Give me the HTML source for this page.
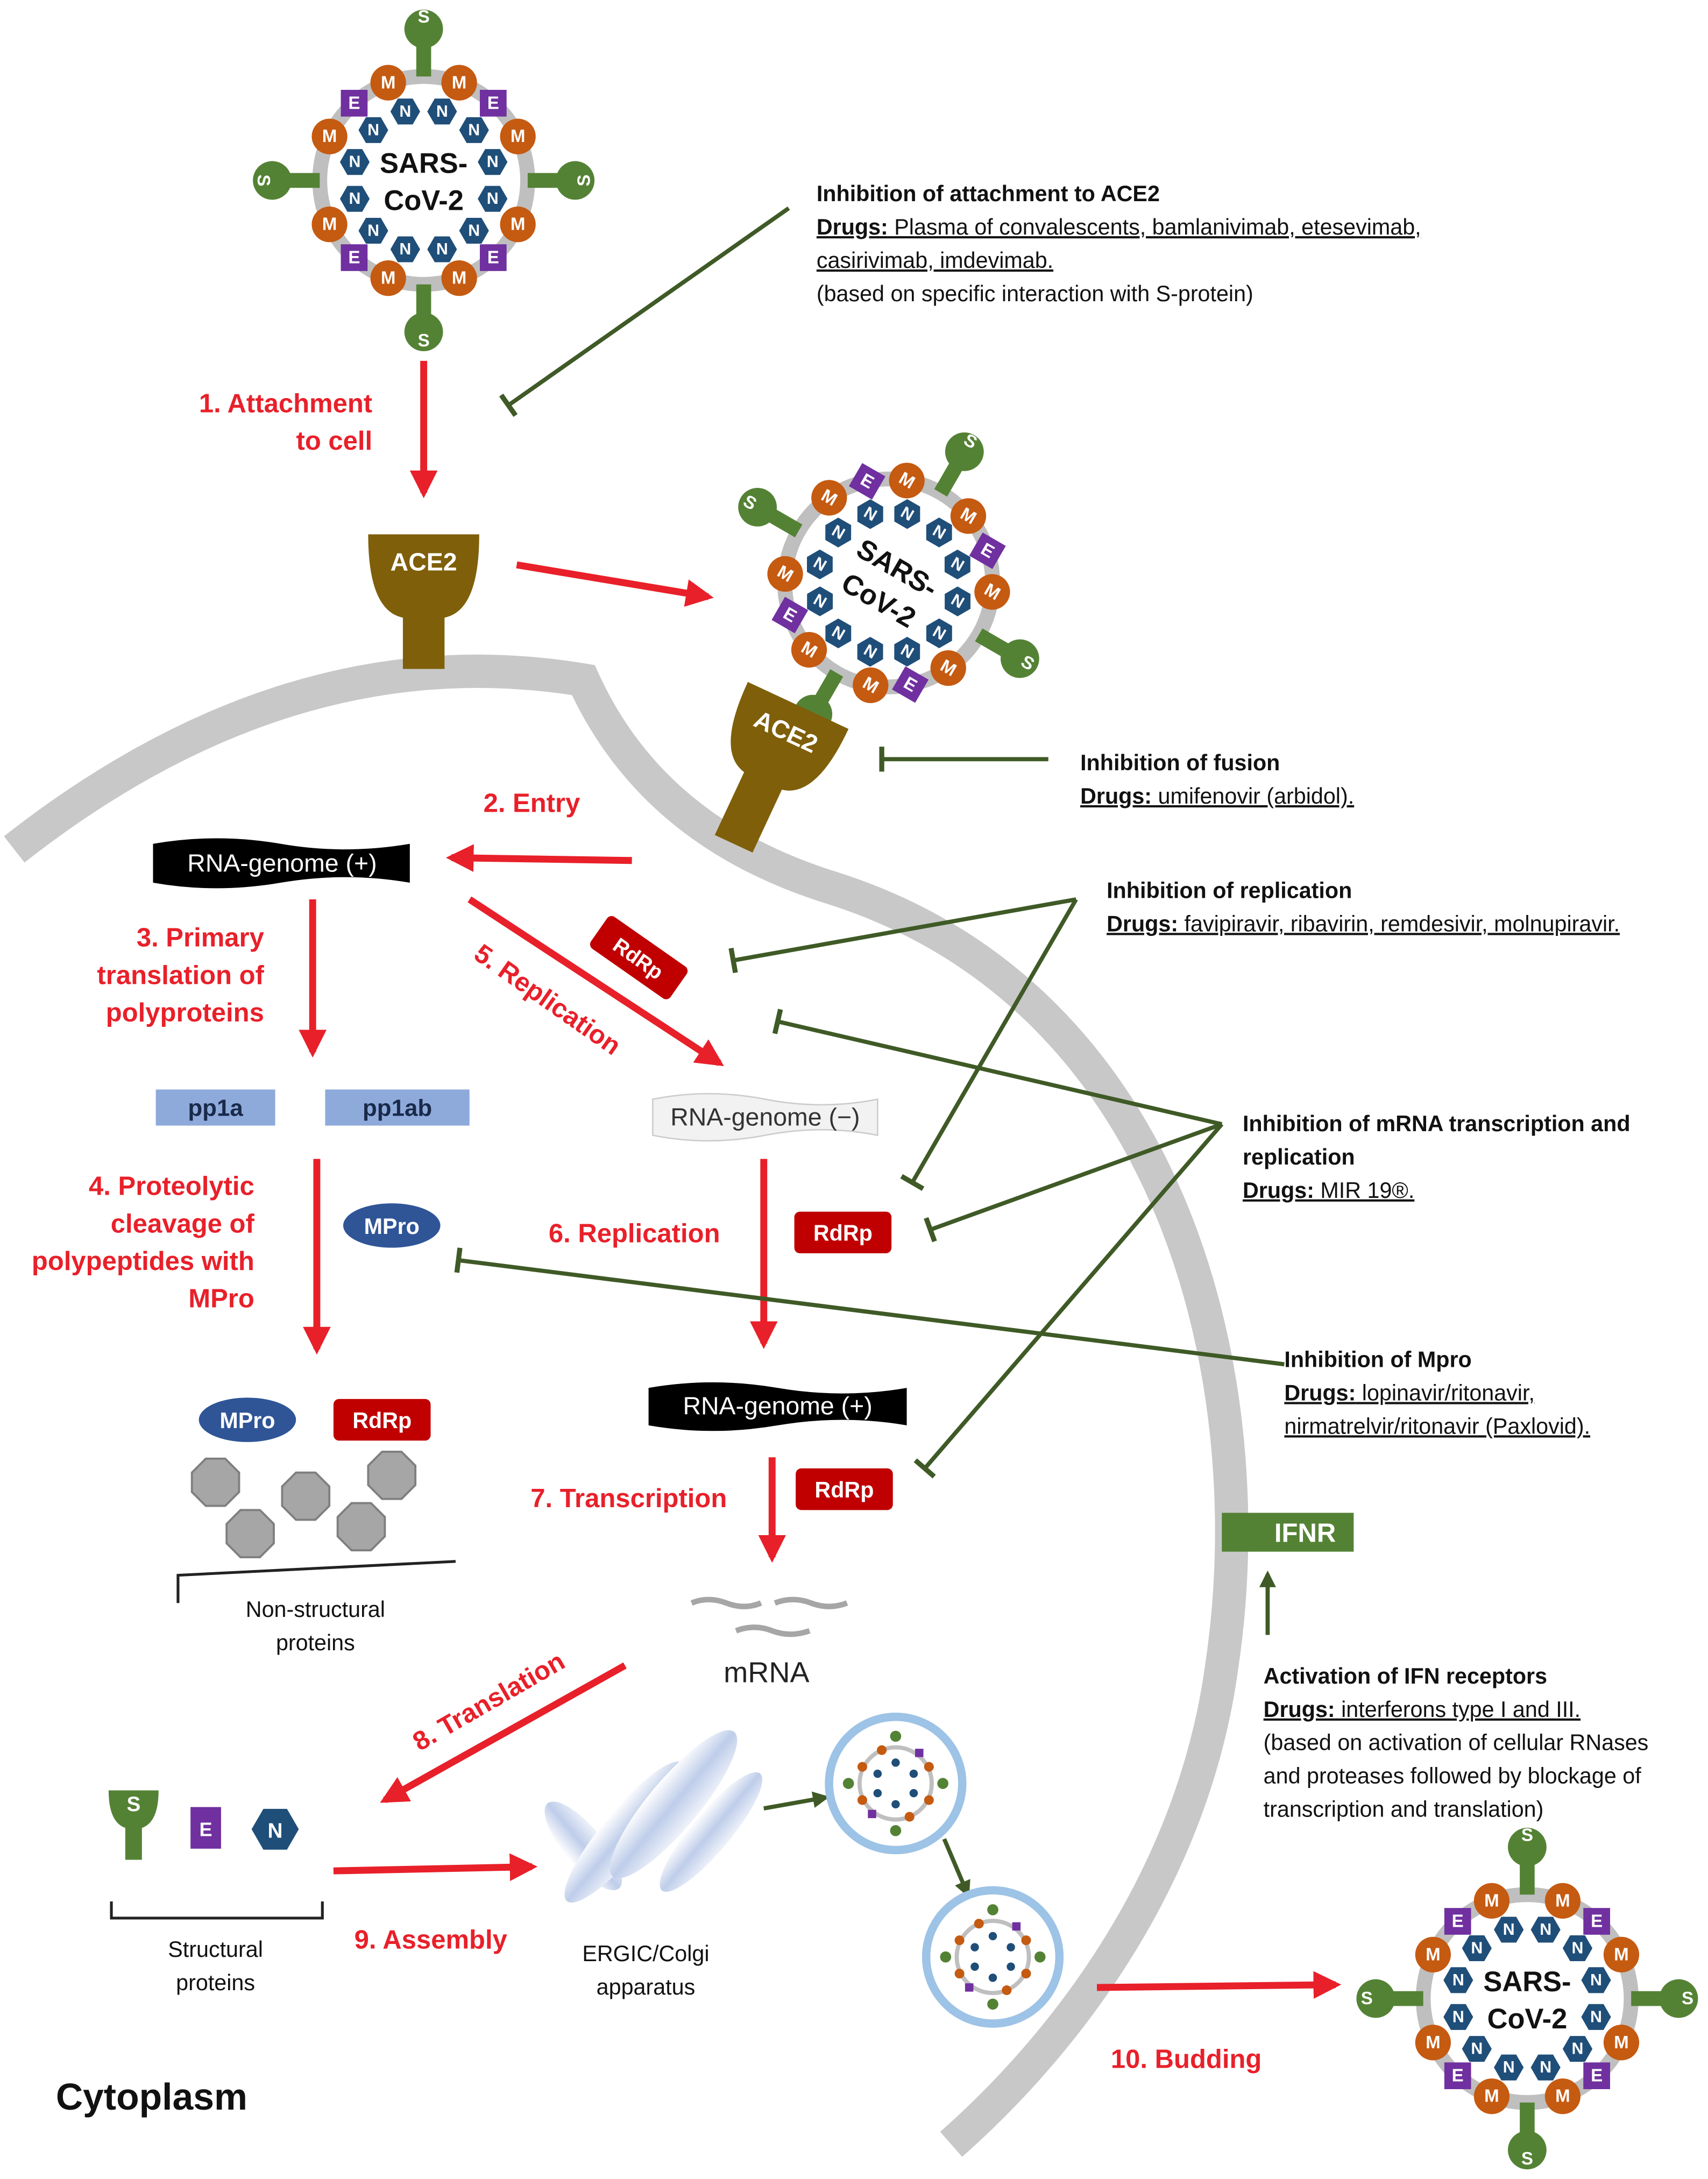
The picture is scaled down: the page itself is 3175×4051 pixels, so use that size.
<!DOCTYPE html>
<html><head><meta charset="utf-8"><style>
html,body{margin:0;padding:0;background:#fff}
svg{display:block}
text{font-family:"Liberation Sans",sans-serif}
.r{fill:#e8202a;font-weight:bold;font-size:19px}
.b{fill:#111;font-size:16px}
.bb{fill:#111;font-size:16px;font-weight:bold}
.u{text-decoration:underline}
.nt{fill:#fff;font-size:11px;font-weight:bold;text-anchor:middle;dominant-baseline:central}
.mt{fill:#fff;font-size:12px;font-weight:bold;text-anchor:middle;dominant-baseline:central}
.vt{fill:#111;font-size:19px;font-weight:bold;text-anchor:middle}
</style></head><body>
<svg width="3175" height="4051" viewBox="0 0 1230 1570" xmlns="http://www.w3.org/2000/svg">
<defs>
<marker id="ar" viewBox="0 0 10 10" refX="8" refY="5" markerWidth="4" markerHeight="4" orient="auto"><path d="M0,0 L10,5 L0,10 z" fill="#e8202a"/></marker>
<marker id="ag" viewBox="0 0 10 10" refX="8" refY="5" markerWidth="4" markerHeight="4" orient="auto"><path d="M0,0 L10,5 L0,10 z" fill="#3f5a26"/></marker>
<marker id="tb" viewBox="0 0 10 10" refX="5" refY="5" markerWidth="6" markerHeight="6" orient="auto"><path d="M5,0 V10" stroke="#3f5a26" stroke-width="2"/></marker>
<linearGradient id="gg" x1="0" y1="0" x2="1" y2="0"><stop offset="0" stop-color="#fff"/><stop offset="0.5" stop-color="#b8c8e8"/><stop offset="1" stop-color="#eef2fa"/></linearGradient>
<g id="vb">
<circle r="70" fill="#fff" stroke="#bfbfbf" stroke-width="10"/>
<g fill="#548235">
<rect x="-5" y="-95" width="10" height="25"/><circle cx="0" cy="-102" r="13"/>
<rect x="-5" y="70" width="10" height="25"/><circle cx="0" cy="102" r="13"/>
<rect x="70" y="-5" width="25" height="10"/><circle cx="102" cy="0" r="13"/>
<rect x="-95" y="-5" width="25" height="10"/><circle cx="-102" cy="0" r="13"/>
</g>
<g fill="#c55a11">
<circle cx="63.4" cy="-29.6" r="12"/><circle cx="23.9" cy="-65.8" r="12"/><circle cx="-23.9" cy="-65.8" r="12"/><circle cx="-63.4" cy="-29.6" r="12"/>
<circle cx="-63.4" cy="29.6" r="12"/><circle cx="-23.9" cy="65.8" r="12"/><circle cx="23.9" cy="65.8" r="12"/><circle cx="63.4" cy="29.6" r="12"/>
</g>
<g fill="#7030a0">
<rect x="37.8" y="-61" width="18" height="18"/><rect x="-55.8" y="-61" width="18" height="18"/><rect x="-55.8" y="43" width="18" height="18"/><rect x="37.8" y="43" width="18" height="18"/>
</g>
<g fill="#1f4e79">
<polygon transform="translate(46.4,-12.4)" points="10,0 5,8.7 -5,8.7 -10,0 -5,-8.7 5,-8.7"/>
<polygon transform="translate(33.9,-33.9)" points="10,0 5,8.7 -5,8.7 -10,0 -5,-8.7 5,-8.7"/>
<polygon transform="translate(12.4,-46.4)" points="10,0 5,8.7 -5,8.7 -10,0 -5,-8.7 5,-8.7"/>
<polygon transform="translate(-12.4,-46.4)" points="10,0 5,8.7 -5,8.7 -10,0 -5,-8.7 5,-8.7"/>
<polygon transform="translate(-33.9,-33.9)" points="10,0 5,8.7 -5,8.7 -10,0 -5,-8.7 5,-8.7"/>
<polygon transform="translate(-46.4,-12.4)" points="10,0 5,8.7 -5,8.7 -10,0 -5,-8.7 5,-8.7"/>
<polygon transform="translate(-46.4,12.4)" points="10,0 5,8.7 -5,8.7 -10,0 -5,-8.7 5,-8.7"/>
<polygon transform="translate(-33.9,33.9)" points="10,0 5,8.7 -5,8.7 -10,0 -5,-8.7 5,-8.7"/>
<polygon transform="translate(-12.4,46.4)" points="10,0 5,8.7 -5,8.7 -10,0 -5,-8.7 5,-8.7"/>
<polygon transform="translate(12.4,46.4)" points="10,0 5,8.7 -5,8.7 -10,0 -5,-8.7 5,-8.7"/>
<polygon transform="translate(33.9,33.9)" points="10,0 5,8.7 -5,8.7 -10,0 -5,-8.7 5,-8.7"/>
<polygon transform="translate(46.4,12.4)" points="10,0 5,8.7 -5,8.7 -10,0 -5,-8.7 5,-8.7"/>
</g>
</g>
<g id="sv">
<circle r="48" fill="#fff" stroke="#9dc3e6" stroke-width="6"/>
<circle r="26" fill="none" stroke="#bfbfbf" stroke-width="3"/>
<g fill="#548235"><circle cx="0" cy="-34" r="4"/><circle cx="0" cy="34" r="4"/><circle cx="34" cy="0" r="4"/><circle cx="-34" cy="0" r="4"/></g>
<g fill="#c55a11"><circle cx="24" cy="-12" r="3.5"/><circle cx="-24" cy="-12" r="3.5"/><circle cx="24" cy="12" r="3.5"/><circle cx="-24" cy="12" r="3.5"/><circle cx="10" cy="24" r="3.5"/><circle cx="-10" cy="-24" r="3.5"/></g>
<g fill="#7030a0"><rect x="14" y="-25" width="6" height="6"/><rect x="-20" y="19" width="6" height="6"/></g>
<g fill="#1f4e79"><circle cx="0" cy="-15" r="3"/><circle cx="13" cy="-7" r="3"/><circle cx="13" cy="7" r="3"/><circle cx="0" cy="15" r="3"/><circle cx="-13" cy="7" r="3"/><circle cx="-13" cy="-7" r="3"/></g>
</g>
</defs>

<!-- membrane -->
<path d="M10,612 Q210,455 420,490 Q470,600 600,640 C850,720 910,1000 880,1200 C860,1350 770,1470 685,1545" fill="none" stroke="#c8c8c8" stroke-width="24"/>

<!-- virus 1 -->
<g transform="translate(305,130) scale(1.07)"><use href="#vb"/></g>
<g transform="translate(305,130) scale(1.07)">
<text class="mt" x="0" y="-110">S</text><text class="mt" x="0" y="108">S</text><text class="mt" x="108" y="0" transform="rotate(-90 108 0)">S</text><text class="mt" x="-108" y="0" transform="rotate(90 -108 0)">S</text>
<text class="mt" x="63.4" y="-29.6">M</text><text class="mt" x="23.9" y="-65.8">M</text><text class="mt" x="-23.9" y="-65.8">M</text><text class="mt" x="-63.4" y="-29.6">M</text><text class="mt" x="-63.4" y="29.6">M</text><text class="mt" x="-23.9" y="65.8">M</text><text class="mt" x="23.9" y="65.8">M</text><text class="mt" x="63.4" y="29.6">M</text>
<text class="mt" x="46.8" y="-52">E</text><text class="mt" x="-46.8" y="-52">E</text><text class="mt" x="-46.8" y="52">E</text><text class="mt" x="46.8" y="52">E</text>
<text class="nt" x="46.4" y="-12.4">N</text><text class="nt" x="33.9" y="-33.9">N</text><text class="nt" x="12.4" y="-46.4">N</text><text class="nt" x="-12.4" y="-46.4">N</text><text class="nt" x="-33.9" y="-33.9">N</text><text class="nt" x="-46.4" y="-12.4">N</text><text class="nt" x="-46.4" y="12.4">N</text><text class="nt" x="-33.9" y="33.9">N</text><text class="nt" x="-12.4" y="46.4">N</text><text class="nt" x="12.4" y="46.4">N</text><text class="nt" x="33.9" y="33.9">N</text><text class="nt" x="46.4" y="12.4">N</text>
<text class="vt" x="0" y="-5">SARS-</text><text class="vt" x="0" y="20">CoV-2</text>
</g>

<!-- virus 2 -->
<g transform="translate(640,420) rotate(30) scale(1.07)"><use href="#vb"/>
<text class="mt" x="63.4" y="-29.6">M</text><text class="mt" x="23.9" y="-65.8">M</text><text class="mt" x="-23.9" y="-65.8">M</text><text class="mt" x="-63.4" y="-29.6">M</text><text class="mt" x="-63.4" y="29.6">M</text><text class="mt" x="-23.9" y="65.8">M</text><text class="mt" x="23.9" y="65.8">M</text><text class="mt" x="63.4" y="29.6">M</text>
<text class="mt" x="46.8" y="-52">E</text><text class="mt" x="-46.8" y="-52">E</text><text class="mt" x="-46.8" y="52">E</text><text class="mt" x="46.8" y="52">E</text>
<text class="mt" x="0" y="-110">S</text><text class="mt" x="0" y="108">S</text><text class="mt" x="108" y="0">S</text><text class="mt" x="-108" y="0">S</text>
<text class="nt" x="46.4" y="-12.4">N</text><text class="nt" x="33.9" y="-33.9">N</text><text class="nt" x="12.4" y="-46.4">N</text><text class="nt" x="-12.4" y="-46.4">N</text><text class="nt" x="-33.9" y="-33.9">N</text><text class="nt" x="-46.4" y="-12.4">N</text><text class="nt" x="-46.4" y="12.4">N</text><text class="nt" x="-33.9" y="33.9">N</text><text class="nt" x="-12.4" y="46.4">N</text><text class="nt" x="12.4" y="46.4">N</text><text class="nt" x="33.9" y="33.9">N</text><text class="nt" x="46.4" y="12.4">N</text>
<text class="vt" x="0" y="-5">SARS-</text><text class="vt" x="0" y="20">CoV-2</text>
</g>

<!-- virus 3 -->
<g transform="translate(1100,1440) scale(1.07)"><use href="#vb"/>
<text class="mt" x="0" y="-110">S</text><text class="mt" x="0" y="108">S</text><text class="mt" x="108" y="0">S</text><text class="mt" x="-108" y="0">S</text>
<text class="mt" x="63.4" y="-29.6">M</text><text class="mt" x="23.9" y="-65.8">M</text><text class="mt" x="-23.9" y="-65.8">M</text><text class="mt" x="-63.4" y="-29.6">M</text><text class="mt" x="-63.4" y="29.6">M</text><text class="mt" x="-23.9" y="65.8">M</text><text class="mt" x="23.9" y="65.8">M</text><text class="mt" x="63.4" y="29.6">M</text>
<text class="mt" x="46.8" y="-52">E</text><text class="mt" x="-46.8" y="-52">E</text><text class="mt" x="-46.8" y="52">E</text><text class="mt" x="46.8" y="52">E</text>
<text class="nt" x="46.4" y="-12.4">N</text><text class="nt" x="33.9" y="-33.9">N</text><text class="nt" x="12.4" y="-46.4">N</text><text class="nt" x="-12.4" y="-46.4">N</text><text class="nt" x="-33.9" y="-33.9">N</text><text class="nt" x="-46.4" y="-12.4">N</text><text class="nt" x="-46.4" y="12.4">N</text><text class="nt" x="-33.9" y="33.9">N</text><text class="nt" x="-12.4" y="46.4">N</text><text class="nt" x="12.4" y="46.4">N</text><text class="nt" x="33.9" y="33.9">N</text><text class="nt" x="46.4" y="12.4">N</text>
<text class="vt" x="0" y="-5">SARS-</text><text class="vt" x="0" y="20">CoV-2</text>
</g>

<!-- ACE2 receptors -->
<path d="M265,385 H345 Q345,440 320,445 V482 H290 V445 Q265,440 265,385 z" fill="#7f5f0a"/>
<text x="305" y="411" fill="#fff" font-size="18" font-weight="bold" text-anchor="middle">ACE2</text>
<g transform="translate(560,540) rotate(25)">
<path d="M-40,-35 H40 Q40,20 15,25 V75 H-15 V25 Q-40,20 -40,-35 z" fill="#7f5f0a"/>
<text x="0" y="-8" fill="#fff" font-size="18" font-weight="bold" text-anchor="middle">ACE2</text>
</g>

<!-- red arrows -->
<g stroke="#e8202a" stroke-width="5" fill="none" marker-end="url(#ar)">
<line x1="305" y1="260" x2="305" y2="355"/>
<line x1="372" y1="407" x2="510" y2="430"/>
<line x1="455" y1="620" x2="325" y2="618"/>
<line x1="225" y1="648" x2="225" y2="758"/>
<line x1="338" y1="648" x2="518" y2="766"/>
<line x1="228" y1="835" x2="228" y2="972"/>
<line x1="550" y1="835" x2="550" y2="968"/>
<line x1="556" y1="1050" x2="556" y2="1122"/>
<line x1="450" y1="1200" x2="277" y2="1297"/>
<line x1="240" y1="1348" x2="383" y2="1345"/>
<line x1="790" y1="1432" x2="962" y2="1430"/>
</g>

<!-- green inhibitor lines -->
<g stroke="#3f5a26" stroke-width="3" fill="none" marker-end="url(#tb)">
<line x1="568" y1="150" x2="366" y2="292"/>
<line x1="755" y1="547" x2="635" y2="547"/>
<line x1="775" y1="648" x2="528" y2="692"/>
<line x1="775" y1="648" x2="657" y2="852"/>
<line x1="880" y1="810" x2="560" y2="736"/>
<line x1="880" y1="810" x2="670" y2="886"/>
<line x1="880" y1="810" x2="666" y2="1058"/>
<line x1="925" y1="983" x2="330" y2="908"/>
</g>
<g stroke="#3f5a26" stroke-width="3" fill="none" marker-end="url(#ag)">
<line x1="913" y1="1178" x2="913" y2="1134"/>
<line x1="550" y1="1303" x2="595" y2="1295"/>
<line x1="680" y1="1325" x2="697" y2="1365"/>
</g>

<!-- RNA banners -->
<path d="M110,608 q46,-8 92,0 t93,0 v28 q-46,-8 -93,0 t-92,0 z" fill="#000"/>
<text x="203" y="628" fill="#fff" font-size="18" text-anchor="middle">RNA-genome (+)</text>
<path d="M470,792 q40,-8 81,0 t81,0 v26 q-40,-8 -81,0 t-81,0 z" fill="#f2f2f2" stroke="#ccc"/>
<text x="551" y="811" fill="#333" font-size="18" text-anchor="middle">RNA-genome (−)</text>
<path d="M467,1000 q46,-8 93,0 t93,0 v27 q-46,-8 -93,0 t-93,0 z" fill="#000"/>
<text x="560" y="1019" fill="#fff" font-size="18" text-anchor="middle">RNA-genome (+)</text>

<!-- pp boxes -->
<rect x="112" y="785" width="86" height="26" fill="#8eaadb"/>
<text x="155" y="804" font-size="17" font-weight="bold" fill="#1a2a4a" text-anchor="middle">pp1a</text>
<rect x="234" y="785" width="104" height="26" fill="#8eaadb"/>
<text x="286" y="804" font-size="17" font-weight="bold" fill="#1a2a4a" text-anchor="middle">pp1ab</text>

<!-- RdRp boxes -->
<g transform="translate(460,690) rotate(35)"><rect x="-35" y="-14" width="70" height="28" rx="4" fill="#c00000"/><text x="0" y="6" fill="#fff" font-size="15" font-weight="bold" text-anchor="middle">RdRp</text></g>
<rect x="572" y="873" width="70" height="30" rx="4" fill="#c00000"/><text x="607" y="894" fill="#fff" font-size="16" font-weight="bold" text-anchor="middle">RdRp</text>
<rect x="240" y="1008" width="70" height="30" rx="4" fill="#c00000"/><text x="275" y="1029" fill="#fff" font-size="16" font-weight="bold" text-anchor="middle">RdRp</text>
<rect x="573" y="1058" width="70" height="30" rx="4" fill="#c00000"/><text x="608" y="1079" fill="#fff" font-size="16" font-weight="bold" text-anchor="middle">RdRp</text>

<!-- MPro -->
<ellipse cx="282" cy="883" rx="35" ry="16" fill="#2f5597"/><text x="282" y="889" fill="#fff" font-size="16" font-weight="bold" text-anchor="middle">MPro</text>
<ellipse cx="178" cy="1023" rx="35" ry="16" fill="#2f5597"/><text x="178" y="1029" fill="#fff" font-size="16" font-weight="bold" text-anchor="middle">MPro</text>

<!-- octagons -->
<g fill="#a6a6a6" stroke="#7f7f7f" stroke-width="1.5">
<polygon transform="translate(155,1068)" points="7,-17 17,-7 17,7 7,17 -7,17 -17,7 -17,-7 -7,-17"/>
<polygon transform="translate(220,1078)" points="7,-17 17,-7 17,7 7,17 -7,17 -17,7 -17,-7 -7,-17"/>
<polygon transform="translate(282,1063)" points="7,-17 17,-7 17,7 7,17 -7,17 -17,7 -17,-7 -7,-17"/>
<polygon transform="translate(180,1105)" points="7,-17 17,-7 17,7 7,17 -7,17 -17,7 -17,-7 -7,-17"/>
<polygon transform="translate(260,1100)" points="7,-17 17,-7 17,7 7,17 -7,17 -17,7 -17,-7 -7,-17"/>
</g>
<path d="M128,1155 V1135 L328,1125" fill="none" stroke="#222" stroke-width="2"/>
<text class="b" x="227" y="1165" text-anchor="middle">Non-structural</text>
<text class="b" x="227" y="1189" text-anchor="middle">proteins</text>

<!-- mRNA -->
<g stroke="#a6a6a6" stroke-width="4" fill="none">
<path d="M498,1155 q12,-5 25,0 t25,0"/><path d="M558,1155 q13,-5 26,0 t26,0"/><path d="M530,1175 q13,-5 26,0 t27,0"/>
</g>
<text x="552" y="1212" font-size="21" fill="#222" text-anchor="middle">mRNA</text>

<!-- structural proteins -->
<rect x="90" y="1310" width="12" height="30" fill="#548235"/>
<path d="M78,1290 H114 Q114,1318 96,1318 Q78,1318 78,1290 z" fill="#548235"/>
<text x="96" y="1305" fill="#fff" font-size="15" font-weight="bold" text-anchor="middle">S</text>
<rect x="137" y="1302" width="22" height="30" fill="#7030a0"/><text x="148" y="1323" fill="#fff" font-size="14" font-weight="bold" text-anchor="middle">E</text>
<polygon transform="translate(198,1318)" points="17,0 8.5,14.7 -8.5,14.7 -17,0 -8.5,-14.7 8.5,-14.7" fill="#1f4e79"/>
<text x="198" y="1324" fill="#fff" font-size="15" font-weight="bold" text-anchor="middle">N</text>
<path d="M80,1370 V1382 H232 V1370" fill="none" stroke="#222" stroke-width="2"/>
<text class="b" x="155" y="1410" text-anchor="middle">Structural</text>
<text class="b" x="155" y="1434" text-anchor="middle">proteins</text>

<!-- golgi -->
<g fill="url(#gg)" opacity="0.9">
<ellipse cx="420" cy="1330" rx="14" ry="40" transform="rotate(-40 420 1330)"/>
<ellipse cx="450" cy="1320" rx="16" ry="65" transform="rotate(40 450 1320)"/>
<ellipse cx="485" cy="1300" rx="18" ry="68" transform="rotate(40 485 1300)"/>
<ellipse cx="512" cy="1320" rx="14" ry="55" transform="rotate(40 512 1320)"/>
</g>
<text class="b" x="465" y="1413" text-anchor="middle">ERGIC/Colgi</text>
<text class="b" x="465" y="1437" text-anchor="middle">apparatus</text>

<!-- vesicles -->
<g transform="translate(645,1285)"><use href="#sv"/></g>
<g transform="translate(715,1410)"><use href="#sv"/></g>

<!-- IFNR -->
<rect x="880" y="1090" width="95" height="28" fill="#548235"/>
<text x="940" y="1111" fill="#fff" font-size="19" font-weight="bold" text-anchor="middle">IFNR</text>

<!-- red labels -->
<text class="r" x="268" y="297" text-anchor="end">1.   Attachment</text>
<text class="r" x="268" y="324" text-anchor="end">to cell</text>
<text class="r" x="348" y="585">2. Entry</text>
<text class="r" x="190" y="682" text-anchor="end">3. Primary</text>
<text class="r" x="190" y="709" text-anchor="end">translation of</text>
<text class="r" x="190" y="736" text-anchor="end">polyproteins</text>
<text class="r" x="340" y="690" transform="rotate(35 340 690)">5. Replication</text>
<text class="r" x="183" y="861" text-anchor="end">4. Proteolytic</text>
<text class="r" x="183" y="888" text-anchor="end">cleavage of</text>
<text class="r" x="183" y="915" text-anchor="end">polypeptides with</text>
<text class="r" x="183" y="942" text-anchor="end">MPro</text>
<text class="r" x="395" y="895">6. Replication</text>
<text class="r" x="382" y="1086">7. Transcription</text>
<text class="r" x="302" y="1262" transform="rotate(-30 302 1262)">8. Translation</text>
<text class="r" x="255" y="1404">9. Assembly</text>
<text class="r" x="800" y="1490">10. Budding</text>
<text x="40" y="1520" font-size="27" font-weight="bold" fill="#111">Cytoplasm</text>

<!-- black info texts -->
<text class="bb" x="588" y="145">Inhibition of attachment to ACE2</text>
<text class="b" x="588" y="169"><tspan class="u" font-weight="bold">Drugs:</tspan><tspan class="u">  Plasma  of  convalescents,  bamlanivimab,  etesevimab,</tspan></text>
<text class="b u" x="588" y="193">casirivimab, imdevimab.</text>
<text class="b" x="588" y="217">(based on specific interaction with S-protein)</text>

<text class="bb" x="778" y="555">Inhibition of fusion</text>
<text class="b" x="778" y="579"><tspan class="u" font-weight="bold">Drugs:</tspan><tspan class="u"> umifenovir (arbidol).</tspan></text>

<text class="bb" x="797" y="647">Inhibition of replication</text>
<text class="b" x="797" y="671"><tspan class="u" font-weight="bold">Drugs:</tspan><tspan class="u"> favipiravir, ribavirin, remdesivir, molnupiravir.</tspan></text>

<text class="bb" x="895" y="815">Inhibition of mRNA transcription and</text>
<text class="bb" x="895" y="839">replication</text>
<text class="b" x="895" y="863"><tspan class="u" font-weight="bold">Drugs:</tspan><tspan class="u"> MIR 19®.</tspan></text>

<text class="bb" x="925" y="985">Inhibition of Mpro</text>
<text class="b" x="925" y="1009"><tspan class="u" font-weight="bold">Drugs:</tspan><tspan class="u"> lopinavir/ritonavir,</tspan></text>
<text class="b u" x="925" y="1033">nirmatrelvir/ritonavir (Paxlovid).</text>

<text class="bb" x="910" y="1213">Activation of IFN receptors</text>
<text class="b" x="910" y="1237"><tspan class="u" font-weight="bold">Drugs:</tspan><tspan class="u"> interferons type I and III.</tspan></text>
<text class="b" x="910" y="1261">(based on activation of cellular RNases</text>
<text class="b" x="910" y="1285">and proteases followed by blockage of</text>
<text class="b" x="910" y="1309">transcription and translation)</text>
</svg>
</body></html>
